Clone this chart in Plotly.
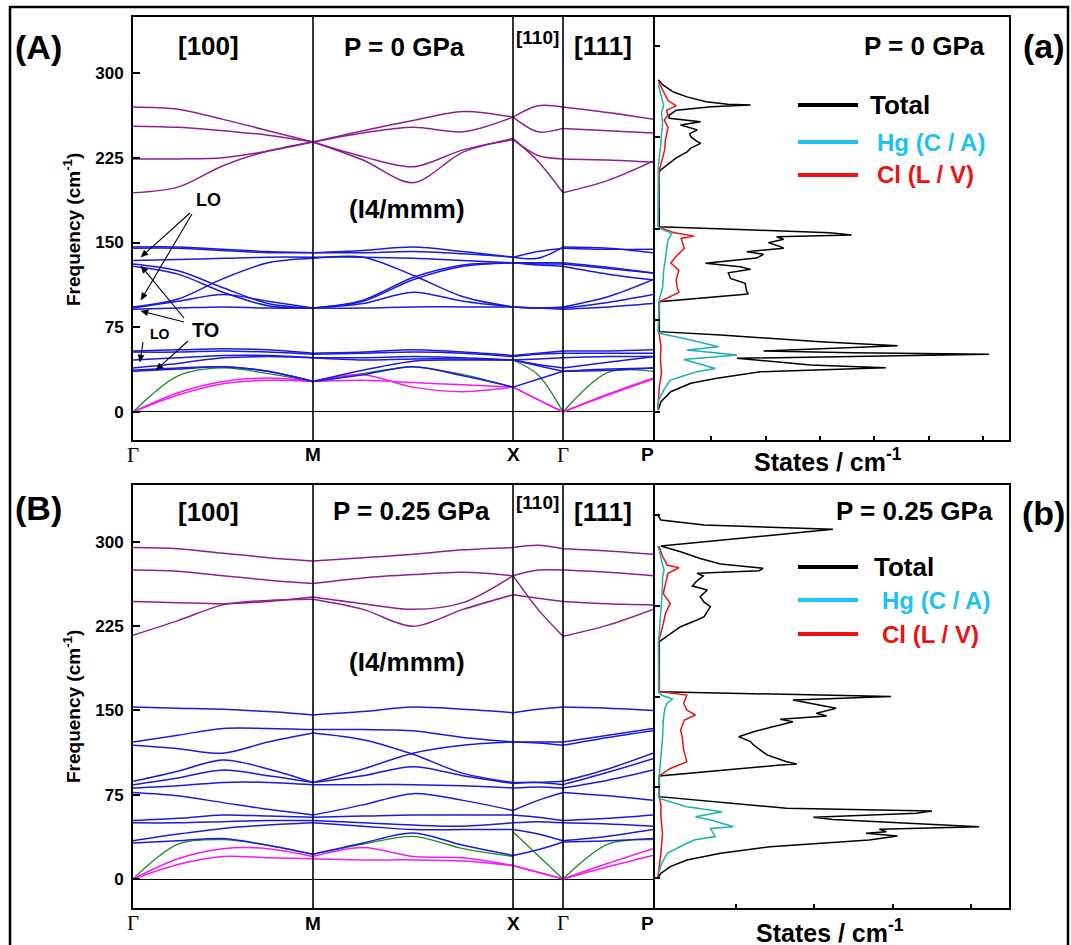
import math
import plotly.graph_objects as go

W, H = 1071, 945
FONT = "Liberation Sans"

# ---------------- k-path (segment end points repeated) ----------------
k_path = [0.0, 0.45, 0.9, 1.35, 1.8,
          1.8, 2.3, 2.8, 3.3, 3.8,
          3.8, 4.05, 4.3,
          4.3, 4.75, 5.2]
segments = [(0, 5), (5, 10), (10, 13), (13, 16)]
sym_k = [0.0, 1.8, 3.8, 4.3, 5.2]
sym_labels = ["Γ", "M", "X", "Γ", "P"]
freq_ticks = [0, 75, 150, 225, 300]

# ---------------- phonon bands, P = 0 GPa ----------------
purple_0 = [
    [253, 252, 249, 245, 239, 239, 249, 258, 266, 261, 261, 248, 251, 251, 249, 247],
    [270, 268, 259, 249, 239, 239, 247, 252, 248, 261, 261, 271, 270, 270, 265, 259],
    [194, 199, 218, 231, 239, 239, 223, 203, 230, 242, 242, 222, 194, 194, 205, 222],
    [224, 224, 225, 231, 239, 239, 226, 217, 232, 241, 241, 227, 224, 224, 223, 221],
]
blue_0 = [
    [146, 146, 144, 142, 141, 141, 143, 146, 142, 137, 137, 136, 146, 146, 145, 141],
    [145, 145, 143, 141, 141, 141, 141, 142, 140, 137, 137, 142, 145, 145, 144, 144],
    [134, 135, 136, 137, 137, 137, 137, 136, 134, 132, 132, 132, 132, 132, 128, 123],
    [131, 125, 110, 96, 92, 92, 99, 119, 130, 132, 132, 131, 131, 131, 127, 123],
    [129, 122, 106, 94, 92, 92, 98, 117, 129, 132, 132, 130, 129, 129, 122, 117],
    [93, 100, 118, 132, 136, 136, 137, 121, 102, 93, 93, 92, 93, 93, 102, 117],
    [92, 98, 104, 98, 92, 92, 96, 106, 98, 93, 93, 92, 92, 92, 97, 104],
    [91, 92, 93, 92, 92, 92, 92, 93, 93, 93, 93, 92, 91, 91, 93, 96],
    [54, 55, 56, 55, 52, 52, 53, 55, 53, 50, 50, 52, 54, 54, 54, 55],
    [53, 53, 54, 53, 51, 51, 52, 53, 52, 49, 49, 51, 52, 52, 52, 52],
    [46, 48, 50, 50, 48, 48, 48, 49, 48, 46, 46, 47, 48, 48, 49, 49],
    [39, 43, 48, 49, 48, 48, 46, 47, 47, 46, 46, 42, 39, 39, 44, 49],
    [36, 38, 40, 36, 27, 27, 37, 45, 46, 46, 46, 41, 36, 36, 37, 39],
    [37, 39, 40, 36, 27, 27, 33, 40, 32, 22, 22, 29, 36, 36, 38, 39],
]
green_0 = [[0, 32, 39, 34, 27, 27, 34, 40, 33, 22, 46, 33, 0, 0, 35, 36]]
magenta_0 = [
    [0, 17, 27, 30, 27, 27, 33, 22, 18, 22, 22, 11, 0, 0, 16, 30],
    [0, 15, 25, 28, 27, 27, 28, 26, 24, 22, 22, 11, 0, 0, 15, 29],
]

# ---------------- phonon bands, P = 0.25 GPa ----------------
purple_25 = [
    [295, 294, 290, 286, 283, 283, 286, 289, 293, 295, 295, 297, 294, 294, 292, 289],
    [275, 274, 270, 266, 263, 263, 268, 271, 273, 270, 270, 275, 275, 275, 273, 270],
    [247, 246, 245, 247, 251, 251, 245, 240, 246, 270, 270, 240, 216, 216, 226, 240],
    [217, 230, 244, 248, 249, 249, 240, 225, 240, 253, 253, 250, 247, 247, 245, 244],
]
blue_25 = [
    [153, 152, 151, 149, 146, 146, 149, 153, 151, 148, 148, 151, 153, 153, 152, 150],
    [122, 128, 134, 134, 133, 133, 133, 132, 126, 122, 122, 122, 122, 122, 128, 134],
    [119, 116, 112, 122, 130, 130, 124, 111, 94, 86, 86, 86, 87, 87, 98, 112],
    [87, 96, 106, 98, 86, 86, 98, 112, 119, 122, 122, 121, 119, 119, 126, 132],
    [84, 90, 97, 92, 86, 86, 92, 100, 92, 85, 85, 86, 84, 84, 95, 107],
    [81, 83, 86, 86, 84, 84, 84, 84, 83, 81, 81, 82, 81, 81, 88, 97],
    [77, 74, 68, 62, 57, 57, 66, 76, 70, 61, 61, 70, 77, 77, 74, 70],
    [52, 54, 57, 56, 55, 55, 56, 57, 57, 57, 57, 55, 52, 52, 54, 57],
    [50, 50, 51, 52, 52, 52, 50, 48, 47, 50, 50, 51, 50, 50, 49, 47],
    [34, 40, 45, 48, 50, 50, 47, 44, 44, 44, 44, 40, 34, 34, 38, 44],
    [32, 34, 36, 30, 22, 22, 32, 41, 30, 21, 21, 26, 33, 33, 34, 36],
]
green_25 = [[0, 31, 35, 30, 22, 22, 31, 38, 27, 20, 42, 21, 0, 0, 31, 35]]
magenta_25 = [
    [0, 18, 27, 27, 20, 20, 28, 20, 19, 12, 12, 6, 0, 0, 14, 27],
    [0, 13, 20, 19, 18, 18, 17, 17, 16, 12, 12, 6, 0, 0, 11, 21],
]

# ---------------- phonon DOS, P = 0 GPa ----------------
dos_f_total_0 = [272, 268, 262, 258, 254, 252, 251.4, 250, 247, 243, 240.5, 237.7, 235, 231, 228,
                 225.4, 222, 220, 216, 213, 208, 203, 198, 196, 152, 151.7, 149, 146.8, 144.9, 143.5,
                 141.4, 138.6, 135.4, 134, 131.3, 129.1, 126, 121.7, 119, 116.8, 114, 109.4, 105.3,
                 98.5, 96.6, 90.3, 65.8, 63, 57.6, 54.9, 54.3, 50, 48.6, 47.2, 44, 39.3, 38.5, 36.3,
                 33, 27.6, 23.5, 16.6, 8.4, 1.6]
dos_total_0 = [0.02, 0.1, 0.3, 0.55, 0.9, 1.3, 1.72, 1.0, 0.35, 0.22, 0.22, 0.8, 0.43, 0.74, 0.6,
               0.62, 0.72, 0.8, 0.62, 0.55, 0.35, 0.2, 0.06, 0.03, 0.03, 0.04, 1.78, 3.18, 3.58, 2.2,
               2.33, 2.05, 2.27, 2.33, 1.65, 1.96, 1.83, 0.89, 1.53, 1.72, 1.31, 1.35, 1.62,
               1.65, 1.68, 0.04, 0.04, 1.17, 3.0, 4.22, 4.43, 1.96, 3.6, 6.11, 1.47, 2.63, 2.82, 4.21,
               1.9, 1.1, 0.62, 0.25, 0.07, 0.02]
dos_f_hg_0 = [268, 262, 255, 251, 245, 236, 228, 220, 209, 200, 152, 150.5, 146.3, 141, 135, 130,
              122, 116, 108, 102, 92, 66, 64.5, 59, 53.5, 50.8, 46.7, 43, 35.7, 33, 26.2, 18, 10, 2]
dos_hg_0 = [0.02, 0.06, 0.1, 0.12, 0.08, 0.1, 0.08, 0.07, 0.04, 0.02, 0.02, 0.04, 0.27, 0.2, 0.18,
            0.16, 0.14, 0.12, 0.11, 0.1, 0.04, 0.02, 0.04, 0.62, 1.13, 0.55, 1.47, 0.49, 1.07, 0.73,
            0.24, 0.12, 0.03, 0.01]
dos_f_cl_0 = [270, 269, 262, 255, 250.6, 247, 243, 239, 233, 227, 222, 215, 208, 196, 152, 151.2,
              147, 144, 142.1, 138, 134, 127, 122, 116, 108, 101.6, 98, 90.3, 66, 63, 54, 43, 32,
              21, 10, 2]
dos_cl_0 = [0.02, 0.04, 0.12, 0.2, 0.35, 0.17, 0.2, 0.13, 0.2, 0.17, 0.15, 0.14, 0.1, 0.03, 0.02,
            0.04, 0.3, 0.68, 0.44, 0.47, 0.5, 0.34, 0.25, 0.4, 0.35, 0.37, 0.4, 0.04, 0.02, 0.04,
            0.07, 0.06, 0.08, 0.04, 0.02, 0.01]

# ---------------- phonon DOS, P = 0.25 GPa ----------------
dos_f_total_25 = [300, 295.9, 291.7, 288.2, 274.4, 269.7, 264, 259.5, 255.9, 254, 251.8, 249.6, 245,
                  241.3, 238, 232.5, 228, 224.2, 216, 213.2, 207.7, 195.3, 154, 152, 149.9, 147.1,
                  140.2, 136.1, 133.9, 131.1, 129.2, 120.9, 116.8, 112.7, 109.9, 101.7, 96.1, 94.2,
                  93.4, 84.3, 67.2, 57.6, 55.4, 53.5, 50.1, 48.4, 42.3, 40.2, 38.3, 36.9, 34.7, 31.4,
                  25.9, 20.4, 14.9, 9.4, 3.9, 0]
dos_total_25 = [0.01, 0.05, 0.6, 2.24, 0.05, 0.3, 0.55, 0.81, 1.35, 1.3, 0.51, 0.59, 0.5, 0.45,
                0.64, 0.55, 0.6, 0.68, 0.6, 0.51, 0.3, 0.03, 0.03, 1.65, 2.98, 1.73, 2.28, 2.03, 2.16,
                1.57, 1.73, 1.23, 1.04, 1.19, 1.23, 1.4, 1.65, 1.78, 1.57, 0.03, 0.03, 1.65, 3.5,
                3.3, 1.99, 2.24, 4.1, 2.83, 2.92, 2.66, 3.06, 2.7, 1.44, 0.81, 0.38, 0.17, 0.05, 0.01]
dos_f_hg_25 = [274, 271, 262, 254.5, 248, 241, 230, 221, 205, 195, 154, 151, 148, 144.4, 140, 130,
               115, 100, 85, 67, 65.8, 58.9, 54.8, 50.6, 47.8, 42.4, 41, 34.2, 31.4, 26, 20.4, 12, 4]
dos_hg_25 = [0.01, 0.03, 0.06, 0.09, 0.07, 0.07, 0.06, 0.05, 0.03, 0.02, 0.02, 0.06, 0.2, 0.13, 0.1,
             0.08, 0.07, 0.05, 0.03, 0.02, 0.03, 0.38, 0.83, 0.49, 0.7, 0.97, 0.68, 0.74, 0.47, 0.3,
             0.13, 0.06, 0.02]
dos_f_cl_25 = [274, 273.6, 266, 258.7, 256.4, 251.8, 243.5, 235, 227, 219, 210, 200, 195, 154, 151.2,
               144.4, 138.8, 134.7, 130.6, 122.3, 116.8, 105.8, 96, 90.5, 84.3, 67, 60, 50.6, 36.9,
               20.4, 10, 0]
dos_cl_25 = [0.01, 0.03, 0.07, 0.13, 0.28, 0.14, 0.11, 0.08, 0.17, 0.11, 0.08, 0.04, 0.02, 0.03,
             0.38, 0.34, 0.38, 0.49, 0.35, 0.3, 0.32, 0.34, 0.38, 0.17, 0.03, 0.03, 0.05, 0.05, 0.07,
             0.05, 0.03, 0.01]

C_PURPLE = "#8f1f8f"
C_BLUE = "#1a1ae0"
C_GREEN = "#228b22"
C_MAGENTA = "#f21cf2"
C_HG_LINE = "#1eb0b0"
C_HG_KEY = "#1cc3ee"
C_CL = "#ee1111"


def px(x, y):
    """pixel position -> paper coordinates"""
    return x / W, 1 - y / H


def band_xy(vals):
    xs, ys = [], []
    for a, b in segments:
        xs += k_path[a:b] + [None]
        ys += vals[a:b] + [None]
    return xs, ys


fig = go.Figure()


def add_bands(bands, color, xa, ya, width=1.5):
    for b in bands:
        xs, ys = band_xy(b)
        fig.add_trace(go.Scatter(x=xs, y=ys, mode="lines", xaxis=xa, yaxis=ya,
                                 line=dict(color=color, width=width, shape="spline", smoothing=0.9),
                                 showlegend=False, hoverinfo="skip"))


add_bands(green_0, C_GREEN, "x", "y", 1.3)
add_bands(magenta_0, C_MAGENTA, "x", "y")
add_bands(blue_0, C_BLUE, "x", "y")
add_bands(purple_0, C_PURPLE, "x", "y")
add_bands(green_25, C_GREEN, "x3", "y3", 1.3)
add_bands(magenta_25, C_MAGENTA, "x3", "y3")
add_bands(blue_25, C_BLUE, "x3", "y3")
add_bands(purple_25, C_PURPLE, "x3", "y3")


def add_dos(f, d, color, xa, ya):
    fig.add_trace(go.Scatter(x=d, y=f, mode="lines", xaxis=xa, yaxis=ya,
                             line=dict(color=color, width=1.5),
                             showlegend=False, hoverinfo="skip"))


add_dos(dos_f_total_0, dos_total_0, "black", "x2", "y2")
add_dos(dos_f_cl_0, dos_cl_0, C_CL, "x2", "y2")
add_dos(dos_f_hg_0, dos_hg_0, C_HG_LINE, "x2", "y2")
add_dos(dos_f_total_25, dos_total_25, "black", "x4", "y4")
add_dos(dos_f_cl_25, dos_cl_25, C_CL, "x4", "y4")
add_dos(dos_f_hg_25, dos_hg_25, C_HG_LINE, "x4", "y4")

# ---------------- axes ----------------
# the DOS frame starts 2 px right so its left edge shares the dispersion frame's right edge
xd_disp = [133 / W, 653 / W]
xd_dos = [655 / W, 1009 / W]
yd_top = [1 - 440 / H, 1 - 17 / H]
yd_bot = [1 - 908 / H, 1 - 485 / H]

frame = dict(showline=True, mirror=True, linecolor="black", linewidth=2,
             showgrid=False, zeroline=False)
tickfont = dict(family=FONT, size=17, color="black", weight="bold")

fig.update_layout(
    width=W, height=H, margin=dict(l=0, r=0, t=0, b=0),
    paper_bgcolor="white", plot_bgcolor="white", showlegend=False,
    xaxis=dict(domain=xd_disp, range=[0, 5.2], anchor="y", showticklabels=False, ticks="", **frame),
    yaxis=dict(domain=yd_top, range=[-24.8, 349.6], anchor="x", tickvals=freq_ticks,
               ticks="inside", ticklen=7, tickwidth=1.5, tickcolor="black", tickfont=tickfont,
               ticklabelstandoff=4, **{**frame, "zeroline": True}, zerolinecolor="black",
               zerolinewidth=1.2),
    xaxis2=dict(domain=xd_dos, range=[-0.04, 6.48], anchor="y2", tickvals=[1, 2, 3, 4, 5, 6],
                ticks="inside", ticklen=4, tickwidth=1.5, tickcolor="black", showticklabels=False,
                **frame),
    yaxis2=dict(domain=yd_top, range=[-22.9, 323.4], anchor="x2", tickvals=freq_ticks,
                ticks="inside", ticklen=5, tickwidth=1.5, tickcolor="black", showticklabels=False,
                **frame),
    xaxis3=dict(domain=xd_disp, range=[0, 5.2], anchor="y3", showticklabels=False, ticks="", **frame),
    yaxis3=dict(domain=yd_bot, range=[-25.8, 350.7], anchor="x3", tickvals=freq_ticks,
                ticks="inside", ticklen=7, tickwidth=1.5, tickcolor="black", tickfont=tickfont,
                ticklabelstandoff=4, **{**frame, "zeroline": True}, zerolinecolor="black",
                zerolinewidth=1.2),
    xaxis4=dict(domain=xd_dos, range=[-0.025, 4.48], anchor="y4", tickvals=[1, 2, 3, 4],
                ticks="inside", ticklen=4, tickwidth=1.5, tickcolor="black", showticklabels=False,
                **frame),
    yaxis4=dict(domain=yd_bot, range=[-24.8, 324.8], anchor="x4", tickvals=freq_ticks,
                ticks="inside", ticklen=5, tickwidth=1.5, tickcolor="black", showticklabels=False,
                **frame),
)

shapes = []
# high-symmetry lines
for xa, ya in (("x", "y"), ("x3", "y3")):
    for k in sym_k[1:-1]:
        shapes.append(dict(type="line", xref=xa, yref=ya + " domain", x0=k, x1=k, y0=0, y1=1,
                           line=dict(color="black", width=1.6)))
# outer frame
x0p, y0p = px(10, 7)
x1p, y1p = px(1068, 955)
shapes.append(dict(type="rect", xref="paper", yref="paper", x0=x0p, x1=x1p, y0=y1p, y1=y0p,
                   line=dict(color="black", width=2.5)))

annotations = []


def label(text, x, y, size, color="black", bold=True, xanchor="center", family=FONT, angle=0):
    xp, yp = px(x, y)
    annotations.append(dict(text=f"<b>{text}</b>" if bold else text, x=xp, y=yp,
                            xref="paper", yref="paper", showarrow=False, xanchor=xanchor,
                            yanchor="middle", textangle=angle,
                            font=dict(family=family, size=size, color=color)))


# panel letters
label("(A)", 38, 47, 34)
label("(a)", 1044, 46, 34)
label("(B)", 38, 508, 34)
label("(b)", 1043, 513, 34)

# dispersion panel texts
for dy, ptxt, ppos in ((0, "P = 0 GPa", 404), (466, "P = 0.25 GPa", 411)):
    label("[100]", 208, 46 + dy, 26)
    label(ptxt, ppos, 47 + dy - (2 if dy else 0), 26)
    label("[110]", 537, 37 + dy, 19)
    label("[111]", 603, 46 + dy, 26)
    label("(I4/mmm)", 407, 209 + dy - (13 if dy else 0), 26)

# DOS panel texts
label("P = 0 GPa", 924, 46, 26)
label("P = 0.25 GPa", 914, 511, 26)
label("States / cm<sup>-1</sup>", 828, 460, 25)
label("States / cm<sup>-1</sup>", 830, 931, 25)
label("Frequency (cm<sup>-1</sup>)", 72, 230, 19, angle=-90)
label("Frequency (cm<sup>-1</sup>)", 72, 707, 19, angle=-90)

# DOS keys
for (ly, tx, txt, col_line, col_txt) in (
        (105, 868, "Total", "black", "black"),
        (142, 875, "Hg (C / A)", C_HG_KEY, C_HG_KEY),
        (175, 875, "Cl (L / V)", C_CL, C_CL),
        (567, 872, "Total", "black", "black"),
        (600, 880, "Hg (C / A)", C_HG_KEY, C_HG_KEY),
        (634, 880, "Cl (L / V)", C_CL, C_CL)):
    xa_, ya_ = px(798, ly)
    xb_, _ = px(858, ly)
    shapes.append(dict(type="line", xref="paper", yref="paper", x0=xa_, x1=xb_, y0=ya_, y1=ya_,
                       line=dict(color=col_line, width=4)))
    label(txt, tx, ly, 26 if txt == "Total" else 24, color=col_txt, xanchor="left")

# high-symmetry point labels
for xa, ypix in (("x", 455), ("x3", 923)):
    for k, lab in zip(sym_k, sym_labels):
        _, yp = px(0, ypix)
        serif = lab == "Γ"
        annotations.append(dict(
            text=lab if serif else f"<b>{lab}</b>", x=k, y=yp, xref=xa, yref="paper",
            showarrow=False, xanchor="center", yanchor="middle",
            xshift=-6 if lab == "P" else 0,
            font=dict(family="Liberation Serif" if serif else FONT, size=21 if serif else 19,
                      color="black")))

# LO / TO mode labels
for text, k, f, size in (("LO", 0.75, 187.6, 18), ("TO", 0.72, 72.6, 20), ("LO", 0.27, 69, 14)):
    annotations.append(dict(text=f"<b>{text}</b>", x=k, y=f, xref="x", yref="y", showarrow=False,
                            font=dict(family=FONT, size=size, color="black")))

# pointer arrows from the mode labels (tail pixel -> head pixel)
pointers = [((190, 213), (141, 257)), ((192, 214), (141, 300)), ((184, 318), (141, 266)),
            ((184, 322), (141, 311)), ((188, 341), (156, 370)), ((143, 342), (140, 362))]
for (tx, ty), (hx, hy) in pointers:
    dx, dy = hx - tx, hy - ty
    n = math.hypot(dx, dy)
    ux, uy = dx / n, dy / n
    bx, by = hx - 7 * ux, hy - 7 * uy
    p0, p1 = px(tx, ty), px(bx, by)
    shapes.append(dict(type="line", xref="paper", yref="paper", x0=p0[0], y0=p0[1],
                       x1=p1[0], y1=p1[1], line=dict(color="black", width=1.1)))
    a = px(hx, hy)
    b = px(bx - 3 * uy, by + 3 * ux)
    c = px(bx + 3 * uy, by - 3 * ux)
    shapes.append(dict(type="path", xref="paper", yref="paper",
                       path=f"M {a[0]},{a[1]} L {b[0]},{b[1]} L {c[0]},{c[1]} Z",
                       fillcolor="black", line=dict(color="black", width=0.5)))

fig.update_layout(shapes=shapes, annotations=annotations)
fig.write_html("out.html")
